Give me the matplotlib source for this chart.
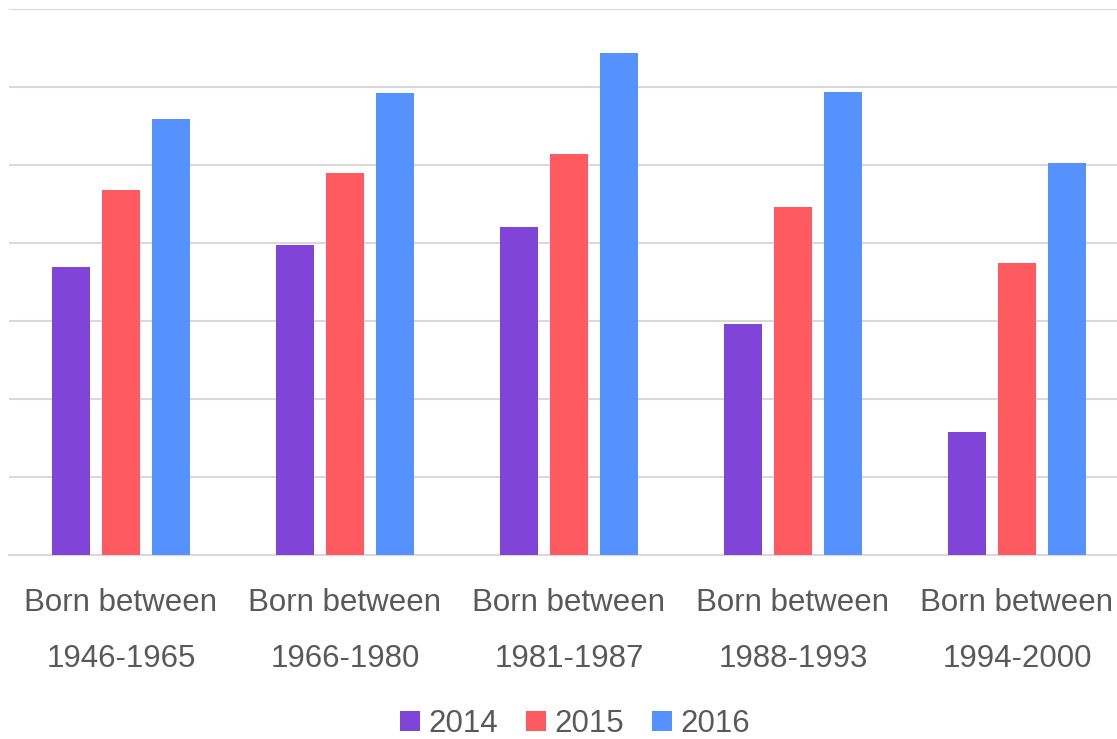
import numpy as np
import matplotlib
matplotlib.use("Agg")
import matplotlib.pyplot as plt

# data (one grid step = 1 unit, no axis labels shown)
groups = ["Born between\n1946-1965", "Born between\n1966-1980", "Born between\n1981-1987",
          "Born between\n1988-1993", "Born between\n1994-2000"]
years = ["2014", "2015", "2016"]
vals_2014 = [3.69, 3.97, 4.20, 2.96, 1.58]
vals_2015 = [4.68, 4.90, 5.14, 4.46, 3.74]
vals_2016 = [5.59, 5.92, 6.44, 5.94, 5.02]
colors = ["#8044D9", "#FF5A5F", "#5591FF"]

plt.rcParams["font.family"] = ["Liberation Sans", "DejaVu Sans"]
text_color = "#595959"

fig = plt.figure(figsize=(11.17, 7.39), dpi=100)
ax = fig.add_axes([9 / 1117, 184 / 739, 1120 / 1117, 546 / 739])

x = np.arange(len(groups))
width = 0.174
offset = 0.2232
for i, (vals, c) in enumerate(zip([vals_2014, vals_2015, vals_2016], colors)):
    ax.bar(x + (i - 1) * offset, vals, width, color=c, label=years[i], zorder=3)

ax.set_xlim(-0.5, 4.5)
ax.set_ylim(0, 7)
ax.set_yticks(np.arange(0, 8, 1))
ax.yaxis.grid(True, color="#D9D9D9", linewidth=1.5, zorder=0)
ax.set_yticklabels([])
ax.tick_params(axis="y", length=0)
ax.tick_params(axis="x", length=0, pad=24)
ax.set_xticks(x)
ax.set_xticklabels(groups, fontsize=22.5, color=text_color, linespacing=2.13)
for s in ["top", "right", "left"]:
    ax.spines[s].set_visible(False)
ax.spines["bottom"].set_color("#D9D9D9")
ax.spines["bottom"].set_linewidth(1.5)

leg = fig.legend(loc="center", bbox_to_anchor=(575 / 1117, 1 - 724 / 739), ncol=3,
                 frameon=False, fontsize=22.5, handlelength=0.645, handleheight=0.645,
                 handletextpad=0.26, columnspacing=0.9, borderpad=0)
for t in leg.get_texts():
    t.set_color(text_color)

fig.savefig("out.png", dpi=100)
